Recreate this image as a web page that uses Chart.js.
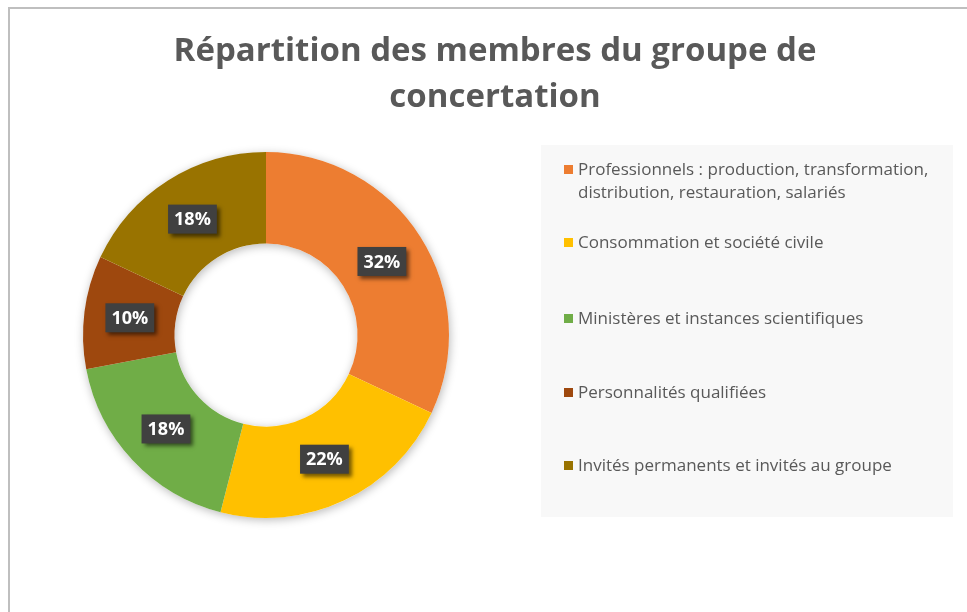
<!DOCTYPE html>
<html>
<head>
<meta charset="utf-8">
<script src="https://cdn.jsdelivr.net/npm/chart.js@4.4.1/dist/chart.umd.min.js"></script>
<style>
  html, body { margin: 0; padding: 0; background: #fff; }
  #wrap { position: relative; width: 967px; height: 612px; }
  #frame { position: absolute; left: 8px; top: 7px; right: 0; bottom: 0;
           border-left: 2px solid #bfbfbf; border-top: 2px solid #bfbfbf; }
  canvas { position: absolute; left: 0; top: 0; }
</style>
</head>
<body>
<div id="wrap">
  <div id="frame"></div>
  <canvas id="chart" width="967" height="612"></canvas>
</div>
<script>
// Répartition des membres du groupe de concertation
const TITLE_LINES = ['Répartition des membres du groupe de', 'concertation'];

const CATEGORIES = [
  ['Professionnels : production, transformation,', 'distribution, restauration, salariés'],
  ['Consommation et société civile'],
  ['Ministères et instances scientifiques'],
  ['Personnalités qualifiées'],
  ['Invités permanents et invités au groupe']
];
const SHARES = [32, 22, 18, 10, 18];
const COLORS = ['#ED7D31', '#FFC000', '#70AD47', '#9E480E', '#997300'];

const FONT = '"Open Sans", Lato, sans-serif';
const TEXT = '#595959';

// ── Title + legend box drawn on the canvas ────────────────────────────────
const sidePlugin = {
  id: 'side',
  beforeDraw(chart) {
    const c = chart.ctx;
    c.save();
    // title
    c.fillStyle = TEXT;
    c.font = `bold 33px ${FONT}`;
    c.textAlign = 'center';
    c.textBaseline = 'middle';
    TITLE_LINES.forEach((t, i) => c.fillText(t, 495, 52 + i * 46));

    // legend panel
    c.fillStyle = '#f8f8f8';
    c.fillRect(541, 145, 412, 372);
    const itemY = [170, 243, 319, 393, 466];
    c.font = `17px ${FONT}`;
    c.textAlign = 'left';
    CATEGORIES.forEach((lines, i) => {
      c.fillStyle = COLORS[i];
      c.fillRect(564, itemY[i] - 5, 9, 9);
      c.fillStyle = TEXT;
      lines.forEach((l, j) => c.fillText(l, 578, itemY[i] + j * 23));
    });
    c.restore();
  },
  beforeDatasetsDraw(chart) {
    const c = chart.ctx;
    c.save();
    c.shadowColor = 'rgba(0,0,0,0.28)';
    c.shadowBlur = 10;
    c.shadowOffsetX = 1;
    c.shadowOffsetY = 2;
    const a = chart.getDatasetMeta(0).data[0];
    c.beginPath();
    c.arc(a.x, a.y, a.outerRadius, 0, Math.PI * 2);
    c.arc(a.x, a.y, a.innerRadius, 0, Math.PI * 2, true);
    c.fillStyle = '#ffffff';
    c.fill();
    c.restore();
  },
  afterDatasetsDraw(chart) {
    const c = chart.ctx;
    const meta = chart.getDatasetMeta(0);
    c.save();
    c.font = `bold 18px ${FONT}`;
    c.textAlign = 'center';
    c.textBaseline = 'middle';
    meta.data.forEach((arc, i) => {
      const p = arc.tooltipPosition();
      const txt = SHARES[i] + '%';
      const w = c.measureText(txt).width + 12;
      const h = 29;
      c.save();
      c.shadowColor = 'rgba(0,0,0,0.55)';
      c.shadowBlur = 4;
      c.shadowOffsetX = 3;
      c.shadowOffsetY = 3;
      c.fillStyle = '#404040';
      c.fillRect(p.x - w / 2, p.y - h / 2, w, h);
      c.restore();
      c.fillStyle = '#ffffff';
      c.fillText(txt, p.x, p.y + 1);
    });
    c.restore();
  }
};

new Chart(document.getElementById('chart'), {
  type: 'doughnut',
  data: {
    labels: CATEGORIES.map(l => l.join(' ')),
    datasets: [{
      data: SHARES,
      backgroundColor: COLORS,
      borderWidth: 0,
      hoverOffset: 0
    }]
  },
  options: {
    responsive: false,
    animation: false,
    cutout: '50%',
    layout: { padding: { left: 83, right: 518, top: 152, bottom: 94 } },
    plugins: {
      legend: { display: false },
      title: { display: false },
      tooltip: { enabled: false }
    }
  },
  plugins: [sidePlugin]
});
</script>
</body>
</html>
